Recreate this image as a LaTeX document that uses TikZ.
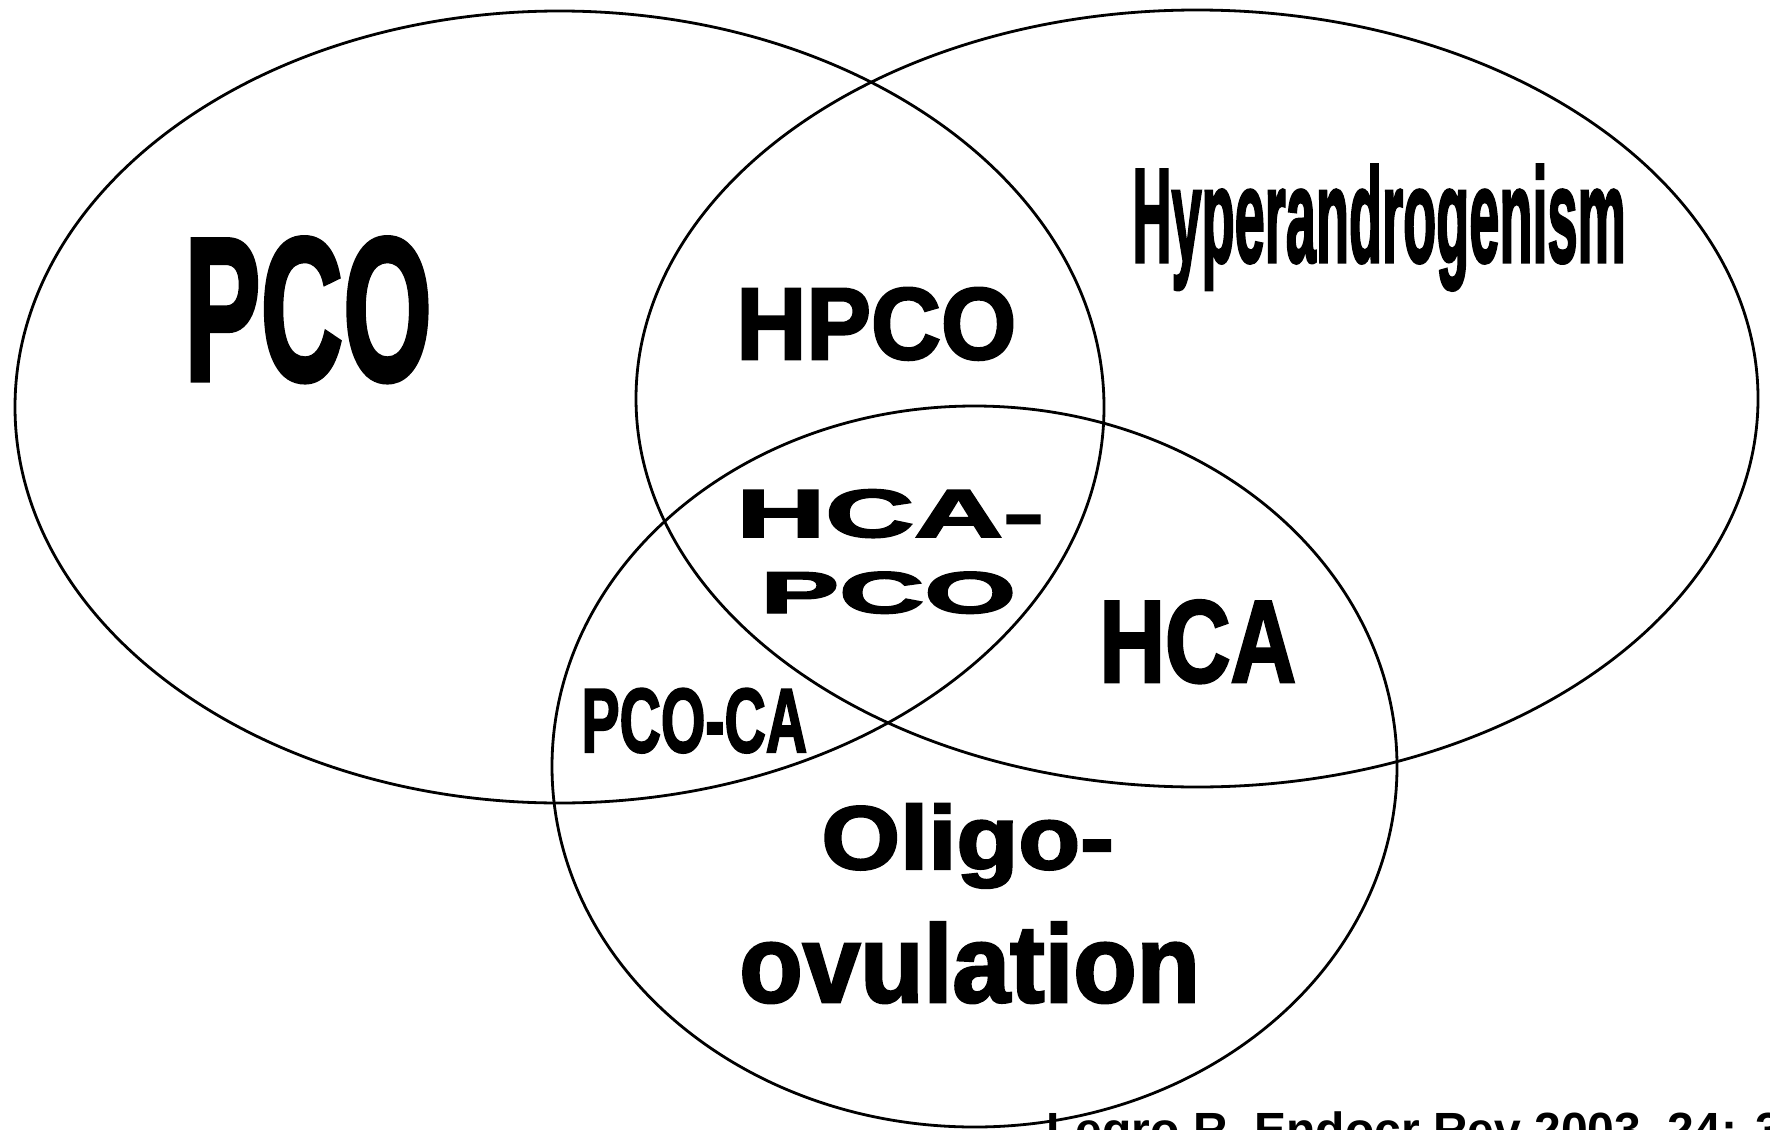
\documentclass[tikz,border=0pt]{standalone}
\usepackage{fontspec}
\setmainfont{Liberation Sans}
\newfontfamily\heavyfont{Liberation Sans Bold}[FakeBold=2.5]
\usepackage{graphicx}
\begin{document}
\begin{tikzpicture}[x=0.5pt,y=-0.5pt,
  ring/.style={draw=black, line width=1.4pt},
  lbl/.style={anchor=base west, inner sep=0pt, font=\heavyfont}]
\path[use as bounding box] (0,0) rectangle (1770,1129);
\clip (0,0) rectangle (1770,1129);
\fill[white] (0,0) rectangle (1770,1129);
% sets
\draw[ring] (559.5,407) ellipse [x radius=272.25pt, y radius=198pt];
\draw[ring] (1197,398.5) ellipse [x radius=280.5pt, y radius=194.25pt];
\draw[ring] (974.5,766.5) ellipse [x radius=211.25pt, y radius=180.25pt];
% labels
\node[lbl] (pco) at (184,380) {\fontsize{102pt}{102pt}\selectfont\scalebox{0.56}[1]{PCO}};
\node[lbl] (hpco) at (736,359) {\fontsize{51pt}{51pt}\selectfont\scalebox{0.95}[1]{HPCO}};
\node[lbl] (hyper) at (1132,262) {\fontsize{67pt}{67pt}\selectfont\scalebox{0.404}[1]{Hyperandrogenism}};
\node[lbl] (hcapco1) at (736,537) {\fontsize{34pt}{34pt}\selectfont\scalebox{1.81}[1]{HCA-}};
\node[lbl] (hcapco2) at (760,613) {\fontsize{29.5pt}{29.5pt}\selectfont\scalebox{2.0}[1]{PCO}};
\node[lbl] (hca) at (1099,682) {\fontsize{58.5pt}{58.5pt}\selectfont\scalebox{0.776}[1]{HCA}};
\node[lbl] (pcoca) at (581,752) {\fontsize{45.5pt}{45.5pt}\selectfont\scalebox{0.629}[1]{PCO-CA}};
\node[lbl] (oligo1) at (821,869) {\fontsize{45pt}{45pt}\selectfont\scalebox{1.125}[1]{Oligo-}};
\node[lbl] (oligo2) at (739,1002) {\fontsize{55pt}{55pt}\selectfont\scalebox{0.942}[1]{ovulation}};
\node[anchor=base west, inner sep=0pt, font=\bfseries] (cite) at (1046,1146) {\fontsize{24pt}{24pt}\selectfont Legro R, Endocr Rev 2003, 24: 302};
\end{tikzpicture}
\end{document}
